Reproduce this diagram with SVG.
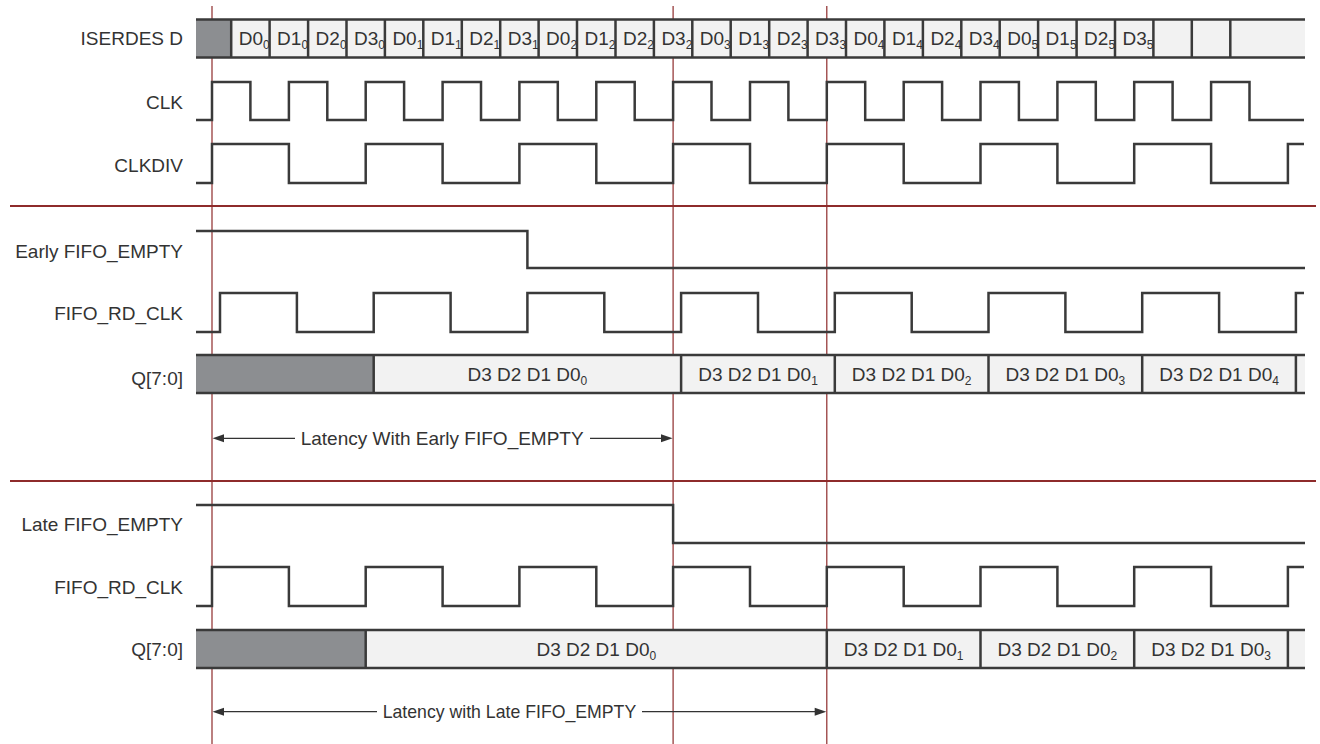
<svg xmlns="http://www.w3.org/2000/svg" width="1320" height="744" viewBox="0 0 1320 744">
<style>
.lbl{font-family:"Liberation Sans",Arial,sans-serif;font-size:19px;fill:#333;text-anchor:end}
.bt{font-family:"Liberation Sans",Arial,sans-serif;font-size:19px;fill:#333}
.btm{font-family:"Liberation Sans",Arial,sans-serif;font-size:19px;fill:#333;text-anchor:middle}
.sub{font-size:12px}
.wave{fill:none;stroke:#3a3a3a;stroke-width:2.5;stroke-linejoin:miter}
.bus{fill:#f2f2f2;stroke:none}
.busl{stroke:#3a3a3a;stroke-width:2.5;fill:none}
.gray{fill:#8c8e91}
.red{stroke:#8e2b2b;stroke-width:1.2}
.sep{stroke:#8e2b2b;stroke-width:2.2}
.arr{stroke:#333;stroke-width:1.3;fill:none}
.ah{fill:#333}
.lt{font-family:"Liberation Sans",Arial,sans-serif;font-size:19px;fill:#333}
</style>
<rect width="1320" height="744" fill="#fff"/>
<g id="guides">
<line class="sep" x1="10" y1="206" x2="1316" y2="206"/>
<line class="sep" x1="10" y1="481" x2="1316" y2="481"/>
<line class="red" x1="212" y1="6" x2="212" y2="744"/>
<line class="red" x1="673.1" y1="6" x2="673.1" y2="744"/>
<line class="red" x1="826.8" y1="6" x2="826.8" y2="744"/>
</g>
<g id="iserdes">
<text class="lbl" x="183" y="45">ISERDES D</text>
<rect class="bus" x="196" y="19.5" width="1109" height="38"/>
<rect class="gray" x="196" y="19.5" width="35.2" height="38"/>
<path class="busl" d="M196,19.5H1305M196,57.5H1305M231.2,19.5V57.5M269.6,19.5V57.5M308.1,19.5V57.5M346.5,19.5V57.5M384.9,19.5V57.5M423.3,19.5V57.5M461.8,19.5V57.5M500.2,19.5V57.5M538.6,19.5V57.5M577,19.5V57.5M615.5,19.5V57.5M653.9,19.5V57.5M692.3,19.5V57.5M730.7,19.5V57.5M769.2,19.5V57.5M807.6,19.5V57.5M846,19.5V57.5M884.4,19.5V57.5M922.9,19.5V57.5M961.3,19.5V57.5M999.7,19.5V57.5M1038.1,19.5V57.5M1076.6,19.5V57.5M1115,19.5V57.5M1153.4,19.5V57.5M1191.8,19.5V57.5M1230.3,19.5V57.5"/>
<text class="bt" y="45"><tspan x="238.7">D0<tspan class="sub" dy="4">0</tspan></tspan></text>
<text class="bt" y="45"><tspan x="277.1">D1<tspan class="sub" dy="4">0</tspan></tspan></text>
<text class="bt" y="45"><tspan x="315.6">D2<tspan class="sub" dy="4">0</tspan></tspan></text>
<text class="bt" y="45"><tspan x="354">D3<tspan class="sub" dy="4">0</tspan></tspan></text>
<text class="bt" y="45"><tspan x="392.4">D0<tspan class="sub" dy="4">1</tspan></tspan></text>
<text class="bt" y="45"><tspan x="430.8">D1<tspan class="sub" dy="4">1</tspan></tspan></text>
<text class="bt" y="45"><tspan x="469.3">D2<tspan class="sub" dy="4">1</tspan></tspan></text>
<text class="bt" y="45"><tspan x="507.7">D3<tspan class="sub" dy="4">1</tspan></tspan></text>
<text class="bt" y="45"><tspan x="546.1">D0<tspan class="sub" dy="4">2</tspan></tspan></text>
<text class="bt" y="45"><tspan x="584.5">D1<tspan class="sub" dy="4">2</tspan></tspan></text>
<text class="bt" y="45"><tspan x="623">D2<tspan class="sub" dy="4">2</tspan></tspan></text>
<text class="bt" y="45"><tspan x="661.4">D3<tspan class="sub" dy="4">2</tspan></tspan></text>
<text class="bt" y="45"><tspan x="699.8">D0<tspan class="sub" dy="4">3</tspan></tspan></text>
<text class="bt" y="45"><tspan x="738.2">D1<tspan class="sub" dy="4">3</tspan></tspan></text>
<text class="bt" y="45"><tspan x="776.7">D2<tspan class="sub" dy="4">3</tspan></tspan></text>
<text class="bt" y="45"><tspan x="815.1">D3<tspan class="sub" dy="4">3</tspan></tspan></text>
<text class="bt" y="45"><tspan x="853.5">D0<tspan class="sub" dy="4">4</tspan></tspan></text>
<text class="bt" y="45"><tspan x="891.9">D1<tspan class="sub" dy="4">4</tspan></tspan></text>
<text class="bt" y="45"><tspan x="930.4">D2<tspan class="sub" dy="4">4</tspan></tspan></text>
<text class="bt" y="45"><tspan x="968.8">D3<tspan class="sub" dy="4">4</tspan></tspan></text>
<text class="bt" y="45"><tspan x="1007.2">D0<tspan class="sub" dy="4">5</tspan></tspan></text>
<text class="bt" y="45"><tspan x="1045.6">D1<tspan class="sub" dy="4">5</tspan></tspan></text>
<text class="bt" y="45"><tspan x="1084.1">D2<tspan class="sub" dy="4">5</tspan></tspan></text>
<text class="bt" y="45"><tspan x="1122.5">D3<tspan class="sub" dy="4">5</tspan></tspan></text>
</g>
<g id="clk">
<text class="lbl" x="183" y="109">CLK</text>
<path class="wave" d="M196,120H212V82H250.4V120H288.9V82H327.3V120H365.7V82H404.1V120H442.6V82H481V120H519.4V82H557.8V120H596.3V82H634.7V120H673.1V82H711.5V120H750V82H788.4V120H826.8V82H865.2V120H903.7V82H942.1V120H980.5V82H1018.9V120H1057.4V82H1095.8V120H1134.2V82H1172.6V120H1211.1V82H1249.5V120H1304"/>
</g>
<g id="clkdiv">
<text class="lbl" x="183" y="172">CLKDIV</text>
<path class="wave" d="M196,183H212V144H288.9V183H365.7V144H442.6V183H519.4V144H596.3V183H673.1V144H750V183H826.8V144H903.7V183H980.5V144H1057.4V183H1134.2V144H1211.1V183H1287.9V144H1304"/>
</g>
<g id="early-empty">
<text class="lbl" x="183" y="258">Early FIFO_EMPTY</text>
<path class="wave" d="M196,231H527.4V268H1305"/>
</g>
<g id="early-rdclk">
<text class="lbl" x="183" y="320">FIFO_RD_CLK</text>
<path class="wave" d="M196,332H220V293H296.9V332H373.7V293H450.6V332H527.4V293H604.3V332H681.1V293H758V332H834.8V293H911.7V332H988.5V293H1065.4V332H1142.2V293H1219.1V332H1295.9V293H1304"/>
</g>
<g id="early-q">
<text class="lbl" x="183" y="385">Q[7:0]</text>
<rect class="bus" x="196" y="355" width="1109" height="38"/>
<rect class="gray" x="196" y="355" width="177.7" height="38"/>
<path class="busl" d="M196,355H1305M196,393H1305M373.7,355V393M681.1,355V393M834.8,355V393M988.5,355V393M1142.2,355V393M1295.9,355V393"/>
<text class="btm" x="527.4" y="381">D3 D2 D1 D0<tspan class="sub" dy="4">0</tspan></text>
<text class="btm" x="758" y="381">D3 D2 D1 D0<tspan class="sub" dy="4">1</tspan></text>
<text class="btm" x="911.7" y="381">D3 D2 D1 D0<tspan class="sub" dy="4">2</tspan></text>
<text class="btm" x="1065.4" y="381">D3 D2 D1 D0<tspan class="sub" dy="4">3</tspan></text>
<text class="btm" x="1219.1" y="381">D3 D2 D1 D0<tspan class="sub" dy="4">4</tspan></text>
</g>
<g id="late-empty">
<text class="lbl" x="183" y="531">Late FIFO_EMPTY</text>
<path class="wave" d="M196,505H673.1V543H1305"/>
</g>
<g id="late-rdclk">
<text class="lbl" x="183" y="594">FIFO_RD_CLK</text>
<path class="wave" d="M196,606H212V567H288.9V606H365.7V567H442.6V606H519.4V567H596.3V606H673.1V567H750V606H826.8V567H903.7V606H980.5V567H1057.4V606H1134.2V567H1211.1V606H1287.9V567H1304"/>
</g>
<g id="late-q">
<text class="lbl" x="183" y="656">Q[7:0]</text>
<rect class="bus" x="196" y="630" width="1109" height="38"/>
<rect class="gray" x="196" y="630" width="169.7" height="38"/>
<path class="busl" d="M196,630H1305M196,668H1305M365.7,630V668M826.8,630V668M980.5,630V668M1134.2,630V668M1287.9,630V668"/>
<text class="btm" x="596.3" y="656">D3 D2 D1 D0<tspan class="sub" dy="4">0</tspan></text>
<text class="btm" x="903.7" y="656">D3 D2 D1 D0<tspan class="sub" dy="4">1</tspan></text>
<text class="btm" x="1057.4" y="656">D3 D2 D1 D0<tspan class="sub" dy="4">2</tspan></text>
<text class="btm" x="1211.1" y="656">D3 D2 D1 D0<tspan class="sub" dy="4">3</tspan></text>
</g>
<g id="connectors">
<line class="arr" x1="222" y1="438.3" x2="295" y2="438.3"/>
<path class="ah" d="M212.5,438.3L224,434.3V442.3Z"/>
<text class="lt" x="300.7" y="444.5">Latency With Early FIFO_EMPTY</text>
<line class="arr" x1="590" y1="438.3" x2="663" y2="438.3"/>
<path class="ah" d="M672.6,438.3L661,434.3V442.3Z"/>
<line class="arr" x1="222" y1="711.7" x2="377" y2="711.7"/>
<path class="ah" d="M212.5,711.7L224,707.7V715.7Z"/>
<text class="lt" x="382.7" y="718" textLength="253.5" lengthAdjust="spacingAndGlyphs">Latency with Late FIFO_EMPTY</text>
<line class="arr" x1="642" y1="711.7" x2="816" y2="711.7"/>
<path class="ah" d="M826.3,711.7L814.7,707.7V715.7Z"/>
</g>
</svg>
